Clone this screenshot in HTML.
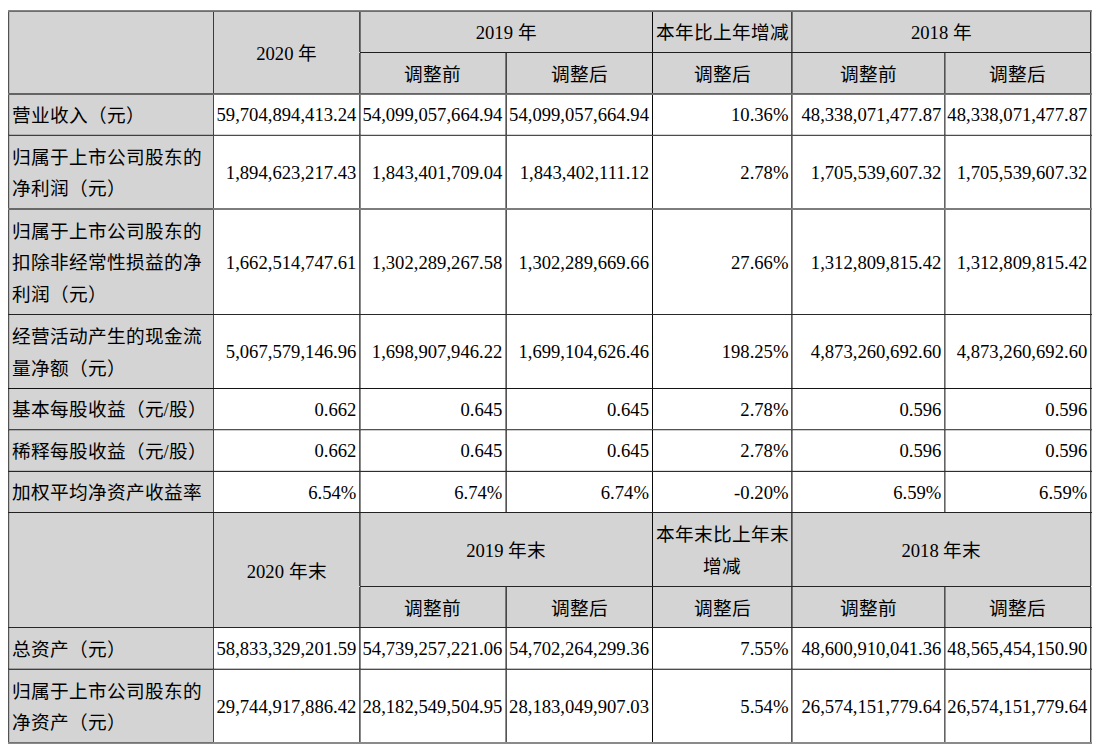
<!DOCTYPE html>
<html lang="zh-CN"><head><meta charset="utf-8"><style>
html,body{margin:0;padding:0;background:#fff;width:1102px;height:752px;overflow:hidden;}
body{position:relative;font-family:"Liberation Serif",serif;font-size:18.67px;color:#000;}
body>div{position:absolute;box-sizing:border-box;}
.c{display:flex;align-items:center;white-space:nowrap;}
</style></head><body>
<div style="left:9px;top:11px;width:1082px;height:83px;background:#d4d4d4"></div>
<div style="left:9px;top:512px;width:1082px;height:116px;background:#d4d4d4"></div>
<div style="left:9px;top:94px;width:204px;height:418px;background:#d4d4d4"></div>
<div style="left:9px;top:628px;width:204px;height:115px;background:#d4d4d4"></div>
<div class="c" style="left:213.5px;top:12.3px;width:146.39999999999998px;height:83px;justify-content:center;text-align:center;line-height:31.5px;"><span>2020 年</span></div>
<div class="c" style="left:359.9px;top:12.3px;width:292.6px;height:41.5px;justify-content:center;text-align:center;line-height:31.5px;"><span>2019 年</span></div>
<div class="c" style="left:652.5px;top:12.3px;width:139.5px;height:41.5px;justify-content:center;text-align:center;line-height:31.5px;"><span>本年比上年增减</span></div>
<div class="c" style="left:792px;top:12.3px;width:298.79999999999995px;height:41.5px;justify-content:center;text-align:center;line-height:31.5px;"><span>2018 年</span></div>
<div class="c" style="left:359.9px;top:53.8px;width:146.0px;height:41.5px;justify-content:center;text-align:center;line-height:31.5px;"><span>调整前</span></div>
<div class="c" style="left:505.9px;top:53.8px;width:146.60000000000002px;height:41.5px;justify-content:center;text-align:center;line-height:31.5px;"><span>调整后</span></div>
<div class="c" style="left:652.5px;top:53.8px;width:139.5px;height:41.5px;justify-content:center;text-align:center;line-height:31.5px;"><span>调整后</span></div>
<div class="c" style="left:792px;top:53.8px;width:152.89999999999998px;height:41.5px;justify-content:center;text-align:center;line-height:31.5px;"><span>调整前</span></div>
<div class="c" style="left:944.9px;top:53.8px;width:145.89999999999998px;height:41.5px;justify-content:center;text-align:center;line-height:31.5px;"><span>调整后</span></div>
<div class="c" style="left:213.5px;top:513.8px;width:146.39999999999998px;height:115.0px;justify-content:center;text-align:center;line-height:31.5px;"><span>2020 年末</span></div>
<div class="c" style="left:359.9px;top:513.8px;width:292.6px;height:74.0px;justify-content:center;text-align:center;line-height:31.5px;"><span>2019 年末</span></div>
<div class="c" style="left:652.5px;top:513.8px;width:139.5px;height:74.0px;justify-content:center;text-align:center;line-height:31.5px;"><span>本年末比上年末<br>增减</span></div>
<div class="c" style="left:792px;top:513.8px;width:298.79999999999995px;height:74.0px;justify-content:center;text-align:center;line-height:31.5px;"><span>2018 年末</span></div>
<div class="c" style="left:359.9px;top:587.8px;width:146.0px;height:41.0px;justify-content:center;text-align:center;line-height:31.5px;"><span>调整前</span></div>
<div class="c" style="left:505.9px;top:587.8px;width:146.60000000000002px;height:41.0px;justify-content:center;text-align:center;line-height:31.5px;"><span>调整后</span></div>
<div class="c" style="left:652.5px;top:587.8px;width:139.5px;height:41.0px;justify-content:center;text-align:center;line-height:31.5px;"><span>调整后</span></div>
<div class="c" style="left:792px;top:587.8px;width:152.89999999999998px;height:41.0px;justify-content:center;text-align:center;line-height:31.5px;"><span>调整前</span></div>
<div class="c" style="left:944.9px;top:587.8px;width:145.89999999999998px;height:41.0px;justify-content:center;text-align:center;line-height:31.5px;"><span>调整后</span></div>
<div class="c" style="left:8.6px;top:95.0px;width:204.9px;height:41px;justify-content:flex-start;text-align:left;line-height:31.5px;padding-left:3px;"><span>营业收入（元）</span></div>
<div class="c" style="left:213.5px;top:94.7px;width:146.39999999999998px;height:41px;justify-content:flex-end;text-align:right;line-height:31.5px;padding-right:3.5px;"><span>59,704,894,413.24</span></div>
<div class="c" style="left:359.9px;top:94.7px;width:146.0px;height:41px;justify-content:flex-end;text-align:right;line-height:31.5px;padding-right:3.5px;"><span>54,099,057,664.94</span></div>
<div class="c" style="left:505.9px;top:94.7px;width:146.60000000000002px;height:41px;justify-content:flex-end;text-align:right;line-height:31.5px;padding-right:3.5px;"><span>54,099,057,664.94</span></div>
<div class="c" style="left:652.5px;top:94.7px;width:139.5px;height:41px;justify-content:flex-end;text-align:right;line-height:31.5px;padding-right:3.5px;"><span>10.36%</span></div>
<div class="c" style="left:792px;top:94.7px;width:152.89999999999998px;height:41px;justify-content:flex-end;text-align:right;line-height:31.5px;padding-right:3.5px;"><span>48,338,071,477.87</span></div>
<div class="c" style="left:944.9px;top:94.7px;width:145.89999999999998px;height:41px;justify-content:flex-end;text-align:right;line-height:31.5px;padding-right:3.5px;"><span>48,338,071,477.87</span></div>
<div class="c" style="left:8.6px;top:136.0px;width:204.9px;height:74px;justify-content:flex-start;text-align:left;line-height:31.5px;padding-left:3px;"><span>归属于上市公司股东的<br>净利润（元）</span></div>
<div class="c" style="left:213.5px;top:135.7px;width:146.39999999999998px;height:74px;justify-content:flex-end;text-align:right;line-height:31.5px;padding-right:3.5px;"><span>1,894,623,217.43</span></div>
<div class="c" style="left:359.9px;top:135.7px;width:146.0px;height:74px;justify-content:flex-end;text-align:right;line-height:31.5px;padding-right:3.5px;"><span>1,843,401,709.04</span></div>
<div class="c" style="left:505.9px;top:135.7px;width:146.60000000000002px;height:74px;justify-content:flex-end;text-align:right;line-height:31.5px;padding-right:3.5px;"><span>1,843,402,111.12</span></div>
<div class="c" style="left:652.5px;top:135.7px;width:139.5px;height:74px;justify-content:flex-end;text-align:right;line-height:31.5px;padding-right:3.5px;"><span>2.78%</span></div>
<div class="c" style="left:792px;top:135.7px;width:152.89999999999998px;height:74px;justify-content:flex-end;text-align:right;line-height:31.5px;padding-right:3.5px;"><span>1,705,539,607.32</span></div>
<div class="c" style="left:944.9px;top:135.7px;width:145.89999999999998px;height:74px;justify-content:flex-end;text-align:right;line-height:31.5px;padding-right:3.5px;"><span>1,705,539,607.32</span></div>
<div class="c" style="left:8.6px;top:210.0px;width:204.9px;height:105.5px;justify-content:flex-start;text-align:left;line-height:31.5px;padding-left:3px;"><span>归属于上市公司股东的<br>扣除非经常性损益的净<br>利润（元）</span></div>
<div class="c" style="left:213.5px;top:209.7px;width:146.39999999999998px;height:105.5px;justify-content:flex-end;text-align:right;line-height:31.5px;padding-right:3.5px;"><span>1,662,514,747.61</span></div>
<div class="c" style="left:359.9px;top:209.7px;width:146.0px;height:105.5px;justify-content:flex-end;text-align:right;line-height:31.5px;padding-right:3.5px;"><span>1,302,289,267.58</span></div>
<div class="c" style="left:505.9px;top:209.7px;width:146.60000000000002px;height:105.5px;justify-content:flex-end;text-align:right;line-height:31.5px;padding-right:3.5px;"><span>1,302,289,669.66</span></div>
<div class="c" style="left:652.5px;top:209.7px;width:139.5px;height:105.5px;justify-content:flex-end;text-align:right;line-height:31.5px;padding-right:3.5px;"><span>27.66%</span></div>
<div class="c" style="left:792px;top:209.7px;width:152.89999999999998px;height:105.5px;justify-content:flex-end;text-align:right;line-height:31.5px;padding-right:3.5px;"><span>1,312,809,815.42</span></div>
<div class="c" style="left:944.9px;top:209.7px;width:145.89999999999998px;height:105.5px;justify-content:flex-end;text-align:right;line-height:31.5px;padding-right:3.5px;"><span>1,312,809,815.42</span></div>
<div class="c" style="left:8.6px;top:315.5px;width:204.9px;height:74.0px;justify-content:flex-start;text-align:left;line-height:31.5px;padding-left:3px;"><span>经营活动产生的现金流<br>量净额（元）</span></div>
<div class="c" style="left:213.5px;top:315.2px;width:146.39999999999998px;height:74.0px;justify-content:flex-end;text-align:right;line-height:31.5px;padding-right:3.5px;"><span>5,067,579,146.96</span></div>
<div class="c" style="left:359.9px;top:315.2px;width:146.0px;height:74.0px;justify-content:flex-end;text-align:right;line-height:31.5px;padding-right:3.5px;"><span>1,698,907,946.22</span></div>
<div class="c" style="left:505.9px;top:315.2px;width:146.60000000000002px;height:74.0px;justify-content:flex-end;text-align:right;line-height:31.5px;padding-right:3.5px;"><span>1,699,104,626.46</span></div>
<div class="c" style="left:652.5px;top:315.2px;width:139.5px;height:74.0px;justify-content:flex-end;text-align:right;line-height:31.5px;padding-right:3.5px;"><span>198.25%</span></div>
<div class="c" style="left:792px;top:315.2px;width:152.89999999999998px;height:74.0px;justify-content:flex-end;text-align:right;line-height:31.5px;padding-right:3.5px;"><span>4,873,260,692.60</span></div>
<div class="c" style="left:944.9px;top:315.2px;width:145.89999999999998px;height:74.0px;justify-content:flex-end;text-align:right;line-height:31.5px;padding-right:3.5px;"><span>4,873,260,692.60</span></div>
<div class="c" style="left:8.6px;top:389.5px;width:204.9px;height:41.19999999999999px;justify-content:flex-start;text-align:left;line-height:31.5px;padding-left:3px;"><span>基本每股收益（元/股）</span></div>
<div class="c" style="left:213.5px;top:389.2px;width:146.39999999999998px;height:41.19999999999999px;justify-content:flex-end;text-align:right;line-height:31.5px;padding-right:3.5px;"><span>0.662</span></div>
<div class="c" style="left:359.9px;top:389.2px;width:146.0px;height:41.19999999999999px;justify-content:flex-end;text-align:right;line-height:31.5px;padding-right:3.5px;"><span>0.645</span></div>
<div class="c" style="left:505.9px;top:389.2px;width:146.60000000000002px;height:41.19999999999999px;justify-content:flex-end;text-align:right;line-height:31.5px;padding-right:3.5px;"><span>0.645</span></div>
<div class="c" style="left:652.5px;top:389.2px;width:139.5px;height:41.19999999999999px;justify-content:flex-end;text-align:right;line-height:31.5px;padding-right:3.5px;"><span>2.78%</span></div>
<div class="c" style="left:792px;top:389.2px;width:152.89999999999998px;height:41.19999999999999px;justify-content:flex-end;text-align:right;line-height:31.5px;padding-right:3.5px;"><span>0.596</span></div>
<div class="c" style="left:944.9px;top:389.2px;width:145.89999999999998px;height:41.19999999999999px;justify-content:flex-end;text-align:right;line-height:31.5px;padding-right:3.5px;"><span>0.596</span></div>
<div class="c" style="left:8.6px;top:430.7px;width:204.9px;height:41.30000000000001px;justify-content:flex-start;text-align:left;line-height:31.5px;padding-left:3px;"><span>稀释每股收益（元/股）</span></div>
<div class="c" style="left:213.5px;top:430.4px;width:146.39999999999998px;height:41.30000000000001px;justify-content:flex-end;text-align:right;line-height:31.5px;padding-right:3.5px;"><span>0.662</span></div>
<div class="c" style="left:359.9px;top:430.4px;width:146.0px;height:41.30000000000001px;justify-content:flex-end;text-align:right;line-height:31.5px;padding-right:3.5px;"><span>0.645</span></div>
<div class="c" style="left:505.9px;top:430.4px;width:146.60000000000002px;height:41.30000000000001px;justify-content:flex-end;text-align:right;line-height:31.5px;padding-right:3.5px;"><span>0.645</span></div>
<div class="c" style="left:652.5px;top:430.4px;width:139.5px;height:41.30000000000001px;justify-content:flex-end;text-align:right;line-height:31.5px;padding-right:3.5px;"><span>2.78%</span></div>
<div class="c" style="left:792px;top:430.4px;width:152.89999999999998px;height:41.30000000000001px;justify-content:flex-end;text-align:right;line-height:31.5px;padding-right:3.5px;"><span>0.596</span></div>
<div class="c" style="left:944.9px;top:430.4px;width:145.89999999999998px;height:41.30000000000001px;justify-content:flex-end;text-align:right;line-height:31.5px;padding-right:3.5px;"><span>0.596</span></div>
<div class="c" style="left:8.6px;top:472.0px;width:204.9px;height:41.5px;justify-content:flex-start;text-align:left;line-height:31.5px;padding-left:3px;"><span>加权平均净资产收益率</span></div>
<div class="c" style="left:213.5px;top:471.7px;width:146.39999999999998px;height:41.5px;justify-content:flex-end;text-align:right;line-height:31.5px;padding-right:3.5px;"><span>6.54%</span></div>
<div class="c" style="left:359.9px;top:471.7px;width:146.0px;height:41.5px;justify-content:flex-end;text-align:right;line-height:31.5px;padding-right:3.5px;"><span>6.74%</span></div>
<div class="c" style="left:505.9px;top:471.7px;width:146.60000000000002px;height:41.5px;justify-content:flex-end;text-align:right;line-height:31.5px;padding-right:3.5px;"><span>6.74%</span></div>
<div class="c" style="left:652.5px;top:471.7px;width:139.5px;height:41.5px;justify-content:flex-end;text-align:right;line-height:31.5px;padding-right:3.5px;"><span>-0.20%</span></div>
<div class="c" style="left:792px;top:471.7px;width:152.89999999999998px;height:41.5px;justify-content:flex-end;text-align:right;line-height:31.5px;padding-right:3.5px;"><span>6.59%</span></div>
<div class="c" style="left:944.9px;top:471.7px;width:145.89999999999998px;height:41.5px;justify-content:flex-end;text-align:right;line-height:31.5px;padding-right:3.5px;"><span>6.59%</span></div>
<div class="c" style="left:8.6px;top:628.5px;width:204.9px;height:41.5px;justify-content:flex-start;text-align:left;line-height:31.5px;padding-left:3px;"><span>总资产（元）</span></div>
<div class="c" style="left:213.5px;top:628.2px;width:146.39999999999998px;height:41.5px;justify-content:flex-end;text-align:right;line-height:31.5px;padding-right:3.5px;"><span>58,833,329,201.59</span></div>
<div class="c" style="left:359.9px;top:628.2px;width:146.0px;height:41.5px;justify-content:flex-end;text-align:right;line-height:31.5px;padding-right:3.5px;"><span>54,739,257,221.06</span></div>
<div class="c" style="left:505.9px;top:628.2px;width:146.60000000000002px;height:41.5px;justify-content:flex-end;text-align:right;line-height:31.5px;padding-right:3.5px;"><span>54,702,264,299.36</span></div>
<div class="c" style="left:652.5px;top:628.2px;width:139.5px;height:41.5px;justify-content:flex-end;text-align:right;line-height:31.5px;padding-right:3.5px;"><span>7.55%</span></div>
<div class="c" style="left:792px;top:628.2px;width:152.89999999999998px;height:41.5px;justify-content:flex-end;text-align:right;line-height:31.5px;padding-right:3.5px;"><span>48,600,910,041.36</span></div>
<div class="c" style="left:944.9px;top:628.2px;width:145.89999999999998px;height:41.5px;justify-content:flex-end;text-align:right;line-height:31.5px;padding-right:3.5px;"><span>48,565,454,150.90</span></div>
<div class="c" style="left:8.6px;top:670.0px;width:204.9px;height:74px;justify-content:flex-start;text-align:left;line-height:31.5px;padding-left:3px;"><span>归属于上市公司股东的<br>净资产（元）</span></div>
<div class="c" style="left:213.5px;top:669.7px;width:146.39999999999998px;height:74px;justify-content:flex-end;text-align:right;line-height:31.5px;padding-right:3.5px;"><span>29,744,917,886.42</span></div>
<div class="c" style="left:359.9px;top:669.7px;width:146.0px;height:74px;justify-content:flex-end;text-align:right;line-height:31.5px;padding-right:3.5px;"><span>28,182,549,504.95</span></div>
<div class="c" style="left:505.9px;top:669.7px;width:146.60000000000002px;height:74px;justify-content:flex-end;text-align:right;line-height:31.5px;padding-right:3.5px;"><span>28,183,049,907.03</span></div>
<div class="c" style="left:652.5px;top:669.7px;width:139.5px;height:74px;justify-content:flex-end;text-align:right;line-height:31.5px;padding-right:3.5px;"><span>5.54%</span></div>
<div class="c" style="left:792px;top:669.7px;width:152.89999999999998px;height:74px;justify-content:flex-end;text-align:right;line-height:31.5px;padding-right:3.5px;"><span>26,574,151,779.64</span></div>
<div class="c" style="left:944.9px;top:669.7px;width:145.89999999999998px;height:74px;justify-content:flex-end;text-align:right;line-height:31.5px;padding-right:3.5px;"><span>26,574,151,779.64</span></div>
<div style="left:8px;top:10px;width:1084px;height:1px;background:rgba(0,0,0,0.48)"></div>
<div style="left:8px;top:11px;width:1084px;height:1px;background:rgba(0,0,0,0.48)"></div>
<div style="left:8px;top:93px;width:1084px;height:1px;background:rgba(0,0,0,0.53)"></div>
<div style="left:8px;top:94px;width:1084px;height:1px;background:rgba(0,0,0,0.53)"></div>
<div style="left:8px;top:134px;width:1084px;height:1px;background:rgba(0,0,0,0.17)"></div>
<div style="left:8px;top:135px;width:1084px;height:1px;background:rgba(0,0,0,0.7)"></div>
<div style="left:8px;top:208px;width:1084px;height:1px;background:rgba(0,0,0,0.51)"></div>
<div style="left:8px;top:209px;width:1084px;height:1px;background:rgba(0,0,0,0.51)"></div>
<div style="left:8px;top:314px;width:1084px;height:1px;background:rgba(0,0,0,0.84)"></div>
<div style="left:8px;top:388px;width:1084px;height:1px;background:rgba(0,0,0,0.92)"></div>
<div style="left:8px;top:429px;width:1084px;height:1px;background:rgba(0,0,0,0.68)"></div>
<div style="left:8px;top:430px;width:1084px;height:1px;background:rgba(0,0,0,0.2)"></div>
<div style="left:8px;top:470px;width:1084px;height:1px;background:rgba(0,0,0,0.13)"></div>
<div style="left:8px;top:471px;width:1084px;height:1px;background:rgba(0,0,0,0.82)"></div>
<div style="left:8px;top:512px;width:1084px;height:1px;background:rgba(0,0,0,0.84)"></div>
<div style="left:8px;top:627px;width:1084px;height:1px;background:rgba(0,0,0,0.82)"></div>
<div style="left:8px;top:668px;width:1084px;height:1px;background:rgba(0,0,0,0.25)"></div>
<div style="left:8px;top:669px;width:1084px;height:1px;background:rgba(0,0,0,0.7)"></div>
<div style="left:8px;top:742px;width:1084px;height:1px;background:rgba(0,0,0,0.46)"></div>
<div style="left:8px;top:743px;width:1084px;height:1px;background:rgba(0,0,0,0.46)"></div>
<div style="left:360px;top:52px;width:731px;height:1px;background:rgba(0,0,0,0.85)"></div>
<div style="left:360px;top:586px;width:731px;height:1px;background:rgba(0,0,0,0.82)"></div>
<div style="left:8px;top:12px;width:1px;height:81px;background:rgba(0,0,0,0.68)"></div>
<div style="left:8px;top:95px;width:1px;height:40px;background:rgba(0,0,0,0.68)"></div>
<div style="left:8px;top:136px;width:1px;height:72px;background:rgba(0,0,0,0.68)"></div>
<div style="left:8px;top:210px;width:1px;height:104px;background:rgba(0,0,0,0.68)"></div>
<div style="left:8px;top:315px;width:1px;height:73px;background:rgba(0,0,0,0.68)"></div>
<div style="left:8px;top:389px;width:1px;height:40px;background:rgba(0,0,0,0.68)"></div>
<div style="left:8px;top:430px;width:1px;height:41px;background:rgba(0,0,0,0.68)"></div>
<div style="left:8px;top:472px;width:1px;height:40px;background:rgba(0,0,0,0.68)"></div>
<div style="left:8px;top:513px;width:1px;height:114px;background:rgba(0,0,0,0.68)"></div>
<div style="left:8px;top:628px;width:1px;height:41px;background:rgba(0,0,0,0.68)"></div>
<div style="left:8px;top:670px;width:1px;height:72px;background:rgba(0,0,0,0.68)"></div>
<div style="left:9px;top:12px;width:1px;height:81px;background:rgba(0,0,0,0.12)"></div>
<div style="left:9px;top:95px;width:1px;height:40px;background:rgba(0,0,0,0.12)"></div>
<div style="left:9px;top:136px;width:1px;height:72px;background:rgba(0,0,0,0.12)"></div>
<div style="left:9px;top:210px;width:1px;height:104px;background:rgba(0,0,0,0.12)"></div>
<div style="left:9px;top:315px;width:1px;height:73px;background:rgba(0,0,0,0.12)"></div>
<div style="left:9px;top:389px;width:1px;height:40px;background:rgba(0,0,0,0.12)"></div>
<div style="left:9px;top:430px;width:1px;height:41px;background:rgba(0,0,0,0.12)"></div>
<div style="left:9px;top:472px;width:1px;height:40px;background:rgba(0,0,0,0.12)"></div>
<div style="left:9px;top:513px;width:1px;height:114px;background:rgba(0,0,0,0.12)"></div>
<div style="left:9px;top:628px;width:1px;height:41px;background:rgba(0,0,0,0.12)"></div>
<div style="left:9px;top:670px;width:1px;height:72px;background:rgba(0,0,0,0.12)"></div>
<div style="left:213px;top:12px;width:1px;height:81px;background:rgba(0,0,0,0.72)"></div>
<div style="left:213px;top:95px;width:1px;height:40px;background:rgba(0,0,0,0.72)"></div>
<div style="left:213px;top:136px;width:1px;height:72px;background:rgba(0,0,0,0.72)"></div>
<div style="left:213px;top:210px;width:1px;height:104px;background:rgba(0,0,0,0.72)"></div>
<div style="left:213px;top:315px;width:1px;height:73px;background:rgba(0,0,0,0.72)"></div>
<div style="left:213px;top:389px;width:1px;height:40px;background:rgba(0,0,0,0.72)"></div>
<div style="left:213px;top:430px;width:1px;height:41px;background:rgba(0,0,0,0.72)"></div>
<div style="left:213px;top:472px;width:1px;height:40px;background:rgba(0,0,0,0.72)"></div>
<div style="left:213px;top:513px;width:1px;height:114px;background:rgba(0,0,0,0.72)"></div>
<div style="left:213px;top:628px;width:1px;height:41px;background:rgba(0,0,0,0.72)"></div>
<div style="left:213px;top:670px;width:1px;height:72px;background:rgba(0,0,0,0.72)"></div>
<div style="left:359px;top:12px;width:1px;height:40px;background:rgba(0,0,0,0.65)"></div>
<div style="left:359px;top:53px;width:1px;height:40px;background:rgba(0,0,0,0.65)"></div>
<div style="left:359px;top:95px;width:1px;height:40px;background:rgba(0,0,0,0.65)"></div>
<div style="left:359px;top:136px;width:1px;height:72px;background:rgba(0,0,0,0.65)"></div>
<div style="left:359px;top:210px;width:1px;height:104px;background:rgba(0,0,0,0.65)"></div>
<div style="left:359px;top:315px;width:1px;height:73px;background:rgba(0,0,0,0.65)"></div>
<div style="left:359px;top:389px;width:1px;height:40px;background:rgba(0,0,0,0.65)"></div>
<div style="left:359px;top:430px;width:1px;height:41px;background:rgba(0,0,0,0.65)"></div>
<div style="left:359px;top:472px;width:1px;height:40px;background:rgba(0,0,0,0.65)"></div>
<div style="left:359px;top:513px;width:1px;height:73px;background:rgba(0,0,0,0.65)"></div>
<div style="left:359px;top:587px;width:1px;height:40px;background:rgba(0,0,0,0.65)"></div>
<div style="left:359px;top:628px;width:1px;height:41px;background:rgba(0,0,0,0.65)"></div>
<div style="left:359px;top:670px;width:1px;height:72px;background:rgba(0,0,0,0.65)"></div>
<div style="left:360px;top:12px;width:1px;height:40px;background:rgba(0,0,0,0.46)"></div>
<div style="left:360px;top:53px;width:1px;height:40px;background:rgba(0,0,0,0.46)"></div>
<div style="left:360px;top:95px;width:1px;height:40px;background:rgba(0,0,0,0.46)"></div>
<div style="left:360px;top:136px;width:1px;height:72px;background:rgba(0,0,0,0.46)"></div>
<div style="left:360px;top:210px;width:1px;height:104px;background:rgba(0,0,0,0.46)"></div>
<div style="left:360px;top:315px;width:1px;height:73px;background:rgba(0,0,0,0.46)"></div>
<div style="left:360px;top:389px;width:1px;height:40px;background:rgba(0,0,0,0.46)"></div>
<div style="left:360px;top:430px;width:1px;height:41px;background:rgba(0,0,0,0.46)"></div>
<div style="left:360px;top:472px;width:1px;height:40px;background:rgba(0,0,0,0.46)"></div>
<div style="left:360px;top:513px;width:1px;height:73px;background:rgba(0,0,0,0.46)"></div>
<div style="left:360px;top:587px;width:1px;height:40px;background:rgba(0,0,0,0.46)"></div>
<div style="left:360px;top:628px;width:1px;height:41px;background:rgba(0,0,0,0.46)"></div>
<div style="left:360px;top:670px;width:1px;height:72px;background:rgba(0,0,0,0.46)"></div>
<div style="left:652px;top:12px;width:1px;height:40px;background:rgba(0,0,0,0.96)"></div>
<div style="left:652px;top:53px;width:1px;height:40px;background:rgba(0,0,0,0.96)"></div>
<div style="left:652px;top:95px;width:1px;height:40px;background:rgba(0,0,0,0.96)"></div>
<div style="left:652px;top:136px;width:1px;height:72px;background:rgba(0,0,0,0.96)"></div>
<div style="left:652px;top:210px;width:1px;height:104px;background:rgba(0,0,0,0.96)"></div>
<div style="left:652px;top:315px;width:1px;height:73px;background:rgba(0,0,0,0.96)"></div>
<div style="left:652px;top:389px;width:1px;height:40px;background:rgba(0,0,0,0.96)"></div>
<div style="left:652px;top:430px;width:1px;height:41px;background:rgba(0,0,0,0.96)"></div>
<div style="left:652px;top:472px;width:1px;height:40px;background:rgba(0,0,0,0.96)"></div>
<div style="left:652px;top:513px;width:1px;height:73px;background:rgba(0,0,0,0.96)"></div>
<div style="left:652px;top:587px;width:1px;height:40px;background:rgba(0,0,0,0.96)"></div>
<div style="left:652px;top:628px;width:1px;height:41px;background:rgba(0,0,0,0.96)"></div>
<div style="left:652px;top:670px;width:1px;height:72px;background:rgba(0,0,0,0.96)"></div>
<div style="left:791px;top:12px;width:1px;height:40px;background:rgba(0,0,0,0.65)"></div>
<div style="left:791px;top:53px;width:1px;height:40px;background:rgba(0,0,0,0.65)"></div>
<div style="left:791px;top:95px;width:1px;height:40px;background:rgba(0,0,0,0.65)"></div>
<div style="left:791px;top:136px;width:1px;height:72px;background:rgba(0,0,0,0.65)"></div>
<div style="left:791px;top:210px;width:1px;height:104px;background:rgba(0,0,0,0.65)"></div>
<div style="left:791px;top:315px;width:1px;height:73px;background:rgba(0,0,0,0.65)"></div>
<div style="left:791px;top:389px;width:1px;height:40px;background:rgba(0,0,0,0.65)"></div>
<div style="left:791px;top:430px;width:1px;height:41px;background:rgba(0,0,0,0.65)"></div>
<div style="left:791px;top:472px;width:1px;height:40px;background:rgba(0,0,0,0.65)"></div>
<div style="left:791px;top:513px;width:1px;height:73px;background:rgba(0,0,0,0.65)"></div>
<div style="left:791px;top:587px;width:1px;height:40px;background:rgba(0,0,0,0.65)"></div>
<div style="left:791px;top:628px;width:1px;height:41px;background:rgba(0,0,0,0.65)"></div>
<div style="left:791px;top:670px;width:1px;height:72px;background:rgba(0,0,0,0.65)"></div>
<div style="left:792px;top:12px;width:1px;height:40px;background:rgba(0,0,0,0.44)"></div>
<div style="left:792px;top:53px;width:1px;height:40px;background:rgba(0,0,0,0.44)"></div>
<div style="left:792px;top:95px;width:1px;height:40px;background:rgba(0,0,0,0.44)"></div>
<div style="left:792px;top:136px;width:1px;height:72px;background:rgba(0,0,0,0.44)"></div>
<div style="left:792px;top:210px;width:1px;height:104px;background:rgba(0,0,0,0.44)"></div>
<div style="left:792px;top:315px;width:1px;height:73px;background:rgba(0,0,0,0.44)"></div>
<div style="left:792px;top:389px;width:1px;height:40px;background:rgba(0,0,0,0.44)"></div>
<div style="left:792px;top:430px;width:1px;height:41px;background:rgba(0,0,0,0.44)"></div>
<div style="left:792px;top:472px;width:1px;height:40px;background:rgba(0,0,0,0.44)"></div>
<div style="left:792px;top:513px;width:1px;height:73px;background:rgba(0,0,0,0.44)"></div>
<div style="left:792px;top:587px;width:1px;height:40px;background:rgba(0,0,0,0.44)"></div>
<div style="left:792px;top:628px;width:1px;height:41px;background:rgba(0,0,0,0.44)"></div>
<div style="left:792px;top:670px;width:1px;height:72px;background:rgba(0,0,0,0.44)"></div>
<div style="left:1090px;top:12px;width:1px;height:40px;background:rgba(0,0,0,0.71)"></div>
<div style="left:1090px;top:53px;width:1px;height:40px;background:rgba(0,0,0,0.71)"></div>
<div style="left:1090px;top:95px;width:1px;height:40px;background:rgba(0,0,0,0.71)"></div>
<div style="left:1090px;top:136px;width:1px;height:72px;background:rgba(0,0,0,0.71)"></div>
<div style="left:1090px;top:210px;width:1px;height:104px;background:rgba(0,0,0,0.71)"></div>
<div style="left:1090px;top:315px;width:1px;height:73px;background:rgba(0,0,0,0.71)"></div>
<div style="left:1090px;top:389px;width:1px;height:40px;background:rgba(0,0,0,0.71)"></div>
<div style="left:1090px;top:430px;width:1px;height:41px;background:rgba(0,0,0,0.71)"></div>
<div style="left:1090px;top:472px;width:1px;height:40px;background:rgba(0,0,0,0.71)"></div>
<div style="left:1090px;top:513px;width:1px;height:73px;background:rgba(0,0,0,0.71)"></div>
<div style="left:1090px;top:587px;width:1px;height:40px;background:rgba(0,0,0,0.71)"></div>
<div style="left:1090px;top:628px;width:1px;height:41px;background:rgba(0,0,0,0.71)"></div>
<div style="left:1090px;top:670px;width:1px;height:72px;background:rgba(0,0,0,0.71)"></div>
<div style="left:1091px;top:12px;width:1px;height:40px;background:rgba(0,0,0,0.31)"></div>
<div style="left:1091px;top:53px;width:1px;height:40px;background:rgba(0,0,0,0.31)"></div>
<div style="left:1091px;top:95px;width:1px;height:40px;background:rgba(0,0,0,0.31)"></div>
<div style="left:1091px;top:136px;width:1px;height:72px;background:rgba(0,0,0,0.31)"></div>
<div style="left:1091px;top:210px;width:1px;height:104px;background:rgba(0,0,0,0.31)"></div>
<div style="left:1091px;top:315px;width:1px;height:73px;background:rgba(0,0,0,0.31)"></div>
<div style="left:1091px;top:389px;width:1px;height:40px;background:rgba(0,0,0,0.31)"></div>
<div style="left:1091px;top:430px;width:1px;height:41px;background:rgba(0,0,0,0.31)"></div>
<div style="left:1091px;top:472px;width:1px;height:40px;background:rgba(0,0,0,0.31)"></div>
<div style="left:1091px;top:513px;width:1px;height:73px;background:rgba(0,0,0,0.31)"></div>
<div style="left:1091px;top:587px;width:1px;height:40px;background:rgba(0,0,0,0.31)"></div>
<div style="left:1091px;top:628px;width:1px;height:41px;background:rgba(0,0,0,0.31)"></div>
<div style="left:1091px;top:670px;width:1px;height:72px;background:rgba(0,0,0,0.31)"></div>
<div style="left:505px;top:53px;width:1px;height:40px;background:rgba(0,0,0,0.44)"></div>
<div style="left:505px;top:95px;width:1px;height:40px;background:rgba(0,0,0,0.44)"></div>
<div style="left:505px;top:136px;width:1px;height:72px;background:rgba(0,0,0,0.44)"></div>
<div style="left:505px;top:210px;width:1px;height:104px;background:rgba(0,0,0,0.44)"></div>
<div style="left:505px;top:315px;width:1px;height:73px;background:rgba(0,0,0,0.44)"></div>
<div style="left:505px;top:389px;width:1px;height:40px;background:rgba(0,0,0,0.44)"></div>
<div style="left:505px;top:430px;width:1px;height:41px;background:rgba(0,0,0,0.44)"></div>
<div style="left:505px;top:472px;width:1px;height:40px;background:rgba(0,0,0,0.44)"></div>
<div style="left:505px;top:587px;width:1px;height:40px;background:rgba(0,0,0,0.44)"></div>
<div style="left:505px;top:628px;width:1px;height:41px;background:rgba(0,0,0,0.44)"></div>
<div style="left:505px;top:670px;width:1px;height:72px;background:rgba(0,0,0,0.44)"></div>
<div style="left:506px;top:53px;width:1px;height:40px;background:rgba(0,0,0,0.67)"></div>
<div style="left:506px;top:95px;width:1px;height:40px;background:rgba(0,0,0,0.67)"></div>
<div style="left:506px;top:136px;width:1px;height:72px;background:rgba(0,0,0,0.67)"></div>
<div style="left:506px;top:210px;width:1px;height:104px;background:rgba(0,0,0,0.67)"></div>
<div style="left:506px;top:315px;width:1px;height:73px;background:rgba(0,0,0,0.67)"></div>
<div style="left:506px;top:389px;width:1px;height:40px;background:rgba(0,0,0,0.67)"></div>
<div style="left:506px;top:430px;width:1px;height:41px;background:rgba(0,0,0,0.67)"></div>
<div style="left:506px;top:472px;width:1px;height:40px;background:rgba(0,0,0,0.67)"></div>
<div style="left:506px;top:587px;width:1px;height:40px;background:rgba(0,0,0,0.67)"></div>
<div style="left:506px;top:628px;width:1px;height:41px;background:rgba(0,0,0,0.67)"></div>
<div style="left:506px;top:670px;width:1px;height:72px;background:rgba(0,0,0,0.67)"></div>
<div style="left:944px;top:53px;width:1px;height:40px;background:rgba(0,0,0,0.61)"></div>
<div style="left:944px;top:95px;width:1px;height:40px;background:rgba(0,0,0,0.61)"></div>
<div style="left:944px;top:136px;width:1px;height:72px;background:rgba(0,0,0,0.61)"></div>
<div style="left:944px;top:210px;width:1px;height:104px;background:rgba(0,0,0,0.61)"></div>
<div style="left:944px;top:315px;width:1px;height:73px;background:rgba(0,0,0,0.61)"></div>
<div style="left:944px;top:389px;width:1px;height:40px;background:rgba(0,0,0,0.61)"></div>
<div style="left:944px;top:430px;width:1px;height:41px;background:rgba(0,0,0,0.61)"></div>
<div style="left:944px;top:472px;width:1px;height:40px;background:rgba(0,0,0,0.61)"></div>
<div style="left:944px;top:587px;width:1px;height:40px;background:rgba(0,0,0,0.61)"></div>
<div style="left:944px;top:628px;width:1px;height:41px;background:rgba(0,0,0,0.61)"></div>
<div style="left:944px;top:670px;width:1px;height:72px;background:rgba(0,0,0,0.61)"></div>
<div style="left:945px;top:53px;width:1px;height:40px;background:rgba(0,0,0,0.37)"></div>
<div style="left:945px;top:95px;width:1px;height:40px;background:rgba(0,0,0,0.37)"></div>
<div style="left:945px;top:136px;width:1px;height:72px;background:rgba(0,0,0,0.37)"></div>
<div style="left:945px;top:210px;width:1px;height:104px;background:rgba(0,0,0,0.37)"></div>
<div style="left:945px;top:315px;width:1px;height:73px;background:rgba(0,0,0,0.37)"></div>
<div style="left:945px;top:389px;width:1px;height:40px;background:rgba(0,0,0,0.37)"></div>
<div style="left:945px;top:430px;width:1px;height:41px;background:rgba(0,0,0,0.37)"></div>
<div style="left:945px;top:472px;width:1px;height:40px;background:rgba(0,0,0,0.37)"></div>
<div style="left:945px;top:587px;width:1px;height:40px;background:rgba(0,0,0,0.37)"></div>
<div style="left:945px;top:628px;width:1px;height:41px;background:rgba(0,0,0,0.37)"></div>
<div style="left:945px;top:670px;width:1px;height:72px;background:rgba(0,0,0,0.37)"></div>
</body></html>
